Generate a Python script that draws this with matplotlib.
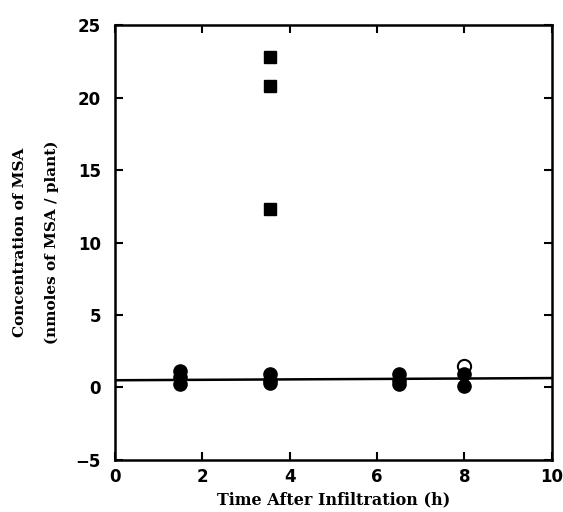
import numpy as np
import matplotlib.pyplot as plt

# MSA concentration vs time after infiltration
sq_x = [3.55, 3.55, 3.55]
sq_y = [22.8, 20.8, 12.3]

fc_x = [1.5, 1.5, 1.5, 3.55, 3.55, 3.55, 6.5, 6.5, 6.5, 8.0, 8.0]
fc_y = [1.15, 0.7, 0.25, 0.95, 0.55, 0.3, 0.9, 0.5, 0.25, 0.95, 0.1]

oc_x = [8.0]
oc_y = [1.45]

fit_x = [0, 10]
fit_y = [0.5, 0.65]

fig = plt.figure(figsize=(5.63, 5.12), dpi=100)
ax = fig.add_axes([0.204, 0.1016, 0.776, 0.8494])

ax.plot(fit_x, fit_y, color='black', linewidth=1.8, zorder=1)
ax.plot(sq_x, sq_y, 's', color='black', markersize=8, zorder=3)
ax.plot(fc_x, fc_y, 'o', color='black', markersize=9.5, zorder=3)
ax.plot(oc_x, oc_y, 'o', markerfacecolor='white', markeredgecolor='black',
        markeredgewidth=1.5, markersize=9.5, zorder=2)

ax.set_xlim(0, 10)
ax.set_ylim(-5, 25)
ax.set_xticks([0, 2, 4, 6, 8, 10])
ax.set_yticks([-5, 0, 5, 10, 15, 20, 25])

for s in ax.spines.values():
    s.set_linewidth(1.8)

ax.tick_params(direction='in', length=6, width=1.5, top=True, right=True,
               labelsize=12)
ax.tick_params(axis='y', pad=10)
ax.tick_params(axis='x', pad=6)
for lab in ax.get_xticklabels() + ax.get_yticklabels():
    lab.set_fontweight('bold')
    lab.set_family('DejaVu Sans')

ax.set_xlabel('Time After Infiltration (h)', family='DejaVu Serif',
              fontweight='bold', fontsize=11.5, labelpad=4)
ax.set_ylabel('Concentration of MSA\n(nmoles of MSA / plant)',
              family='DejaVu Serif', fontweight='bold', fontsize=11,
              labelpad=12, linespacing=2.5)

fig.savefig('out.png', dpi=100)
